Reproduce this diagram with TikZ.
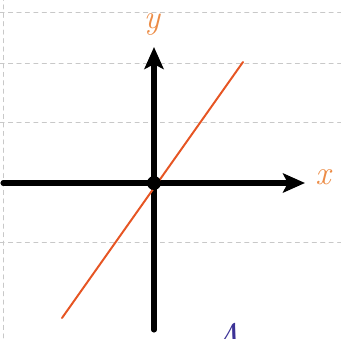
\documentclass[tikz,border=0pt]{standalone}
\usetikzlibrary{arrows.meta}
\definecolor{lineorange}{RGB}{230,85,35}
\definecolor{labelorange}{RGB}{236,140,70}
\definecolor{gridgray}{RGB}{200,200,200}
\definecolor{inkblue}{RGB}{60,50,150}
\begin{document}
\begin{tikzpicture}[x=0.025cm, y=0.025cm, line cap=round, line join=round]
    \def\W{341}
    \def\H{338}
    \def\ox{154}
    \def\oy{155}
    \useasboundingbox (0,0) rectangle (\W,\H);
    % faint grid of the paper
    \foreach \g in {326,275,216,96}
      \draw[gridgray, dashed, line width=0.6pt] (0,\g) -- (\W,\g);
    \draw[gridgray, dashed, line width=0.6pt] (3,0) -- (3,\H);
    % axes
    \draw[line width=3.6pt, -{Stealth[length=0.55cm, width=0.48cm, inset=0.12cm]}] (3,\oy) -- (305,\oy);
    \draw[line width=3.6pt, -{Stealth[length=0.55cm, width=0.48cm, inset=0.12cm]}] (\ox,8) -- (\ox,291);
    % the line
    \draw[lineorange, line width=1.4pt] (62,20) -- (243,276);
    \fill (\ox,\oy) circle (7);
    % labels
    \node[labelorange, font=\fontsize{24}{24}\selectfont\itshape] (ylab) at (152,314) {y};
    \node[labelorange, font=\fontsize{24}{24}\selectfont\itshape] (xlab) at (323,161) {x};
    \node[inkblue, font=\fontsize{26}{26}\selectfont] (blue) at (226,1) {$\mathcal{A}$};
  \end{tikzpicture}
\end{document}
